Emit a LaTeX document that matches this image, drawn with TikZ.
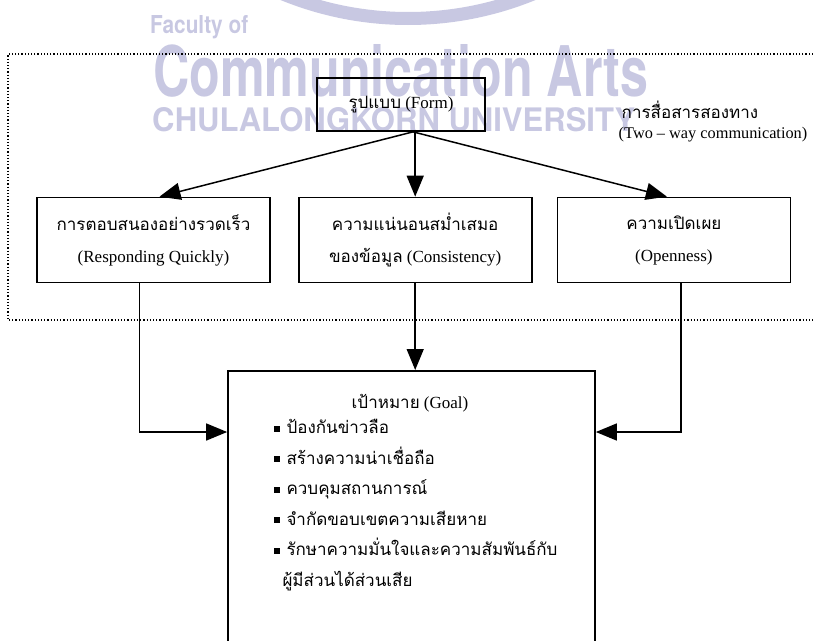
\documentclass[tikz,border=0pt]{standalone}
\usepackage{fontspec}
\setmainfont{Liberation Serif}
\newfontfamily\thaifont[Script=Thai]{Loma}
\newfontfamily\wmfont{TeX Gyre Heros}
\usetikzlibrary{arrows.meta,positioning}
\definecolor{wmcol}{RGB}{200,200,226}
\newcommand{\tx}[1]{{\thaifont #1}}
\newcommand{\bul}{\rule[2pt]{6pt}{6pt}\hspace{7pt}}
\begin{document}
\begin{tikzpicture}[x=1pt,y=-1pt,
  txt/.style={font=\fontsize{17}{32}\selectfont},
  box/.style={draw,line width=1.7pt,minimum width=233pt,minimum height=85pt,align=center,txt},
  arr/.style={line width=1.5pt,-{Triangle[length=21pt,width=17pt]}},
  wm/.style={wmcol,font=\wmfont\bfseries,inner sep=0pt}]
\useasboundingbox (0,0) rectangle (813,640);
% watermark
\begin{scope}
\clip (0,0) rectangle (813,60);
\draw[wmcol,line width=13pt] (408,-311.5) circle[radius=330];
\end{scope}
\node[wm,anchor=base west] (wmfac) at (150,33) {\resizebox{98pt}{18pt}{Faculty of}};
\node[wm,anchor=base west] (wmcom) at (153,96) {\resizebox{495pt}{52pt}{Communication Arts}};
\node[wm,anchor=base west] (wmuni) at (152,131) {\resizebox{483pt}{24pt}{CHULALONGKORN UNIVERSITY}};
% dotted frame
\draw[dotted,line width=1.2pt] (813,54) -- (8,54) -- (8,320) -- (813,320);
% nodes
\node[draw,line width=1.7pt,minimum width=168pt,minimum height=53pt,txt] (form) at (401,104.5) {\tx{รูปแบบ} (Form)};
\node[txt] (twoway) at (690,110) {\tx{การสื่อสารสองทาง}};
\node[txt,font=\fontsize{16.3}{30}\selectfont] (twowayen) at (713,135) {(Two -- way communication)};
\node[box] (resp) at (153.5,240) {\tx{การตอบสนองอย่างรวดเร็ว}\\(Responding Quickly)};
\node[box,right=27pt of resp] (cons) {\tx{ความแน่นอนสม่ำเสมอ}\\\tx{ของข้อมูล} (Consistency)};
\node[box,right=24pt of cons] (open) {\tx{ความเปิดเผย}\\(Openness)};
\node[draw,line width=1.7pt,minimum width=367pt,minimum height=300pt,anchor=north] (goal) at (411.5,370) {};
\node[txt] (goalhead) at (410,403) {\tx{เป้าหมาย} (Goal)};
\node[anchor=north west,align=left,font=\thaifont\fontsize{17}{30.5}\selectfont] (goallist) at (270,416)
  {\bul ป้องกันข่าวลือ\\
   \bul สร้างความน่าเชื่อถือ\\
   \bul ควบคุมสถานการณ์\\
   \bul จำกัดขอบเขตความเสียหาย\\
   \bul รักษาความมั่นใจและความสัมพันธ์กับ\\
   \hspace*{9pt}ผู้มีส่วนได้ส่วนเสีย};
% connectors
\draw[arr] ([xshift=12pt]form.south) -- ([xshift=6pt]resp.north);
\draw[arr] (cons.north |- form.south) -- (cons.north);
\draw[arr] ([xshift=12pt]form.south) -- ([xshift=-7pt]open.north);
\draw[arr] ([xshift=-14pt]resp.south) |- ([yshift=-62pt]goal.north west);
\draw[arr] (cons.south) -- (cons.south |- goal.north);
\draw[arr] ([xshift=7pt]open.south) |- ([yshift=-62pt]goal.north east);
\end{tikzpicture}
\end{document}
